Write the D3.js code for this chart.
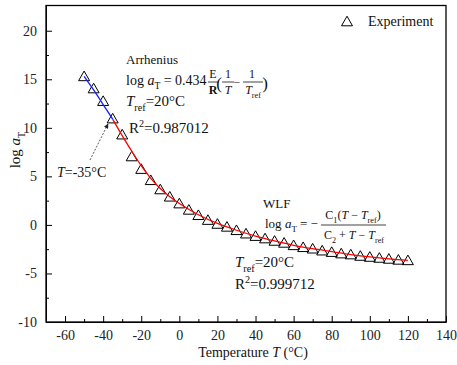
<!DOCTYPE html>
<html>
<head>
<meta charset="utf-8">
<script src="https://cdn.jsdelivr.net/npm/d3@7"></script>
<style>
  body { margin: 0; background: #fff; }
  svg text { font-family: "Liberation Serif", "Times New Roman", serif; fill: #111; white-space: pre; }
</style>
</head>
<body>
<svg width="457" height="365"></svg>
<script>
// experiment (shift factor points)
const temps = [-50, -45, -40, -35, -30, -25, -20, -15, -10, -5, 0, 5, 10, 15, 20, 25, 30, 35,
  40, 45, 50, 55, 60, 65, 70, 75, 80, 85, 90, 95, 100, 105, 110, 115, 120];
const logAT = [15.35, 14.1, 12.8, 11.0, 9.35, 7.1, 5.8, 4.65, 3.7, 2.95, 2.25, 1.6, 1.05, 0.55, 0.15, -0.15, -0.5, -0.85,
  -1.1, -1.35, -1.6, -1.8, -2.05, -2.25, -2.4, -2.6, -2.75, -2.9, -3.0, -3.15, -3.25, -3.35, -3.45, -3.55, -3.6];

// Arrhenius fit (blue)
const arrT = [-50, -45, -40, -35];
const arrLog = [15.3, 13.9, 12.4, 10.9];

// WLF fit (red)
const wlfT = [-35, -30, -25, -20, -15, -10, -5, 0, 10, 20, 30, 40, 50, 60, 70, 80, 90, 100, 110, 120];
const wlfLog = [10.9, 9.2, 7.6, 6.1, 4.8, 3.75, 2.9, 2.2, 1.05, 0.15, -0.55, -1.15, -1.65, -2.1, -2.45, -2.75, -3.05, -3.3, -3.5, -3.65];

const xTicks = [-60, -40, -20, 0, 20, 40, 60, 80, 100, 120, 140];
const xMinor = [-50, -30, -10, 10, 30, 50, 70, 90, 110, 130];
const yTicks = [-10, -5, 0, 5, 10, 15, 20];
const yMinor = [-7.5, -2.5, 2.5, 7.5, 12.5, 17.5];

var svg = d3.select("svg");

var x = d3.scaleLinear().domain([-70, 140]).range([46, 446]);
var y = d3.scaleLinear().domain([-10, 22.6]).range([322, 5.5]);

// ---------------------------------------------------------------- axes
function styleAxis(g) {
  g.attr("font-family", null).attr("font-size", 14);
  g.selectAll("text").style("fill", "#222");
  g.selectAll("line").attr("stroke-width", 1);
}

svg.append("g")
  .attr("transform", "translate(0,322)")
  .call(d3.axisBottom(x).tickValues(xMinor).tickSizeInner(-3).tickSizeOuter(0).tickFormat(""))
  .call(g => g.select(".domain").remove());

svg.append("g")
  .attr("transform", "translate(0,322)")
  .call(d3.axisBottom(x).tickValues(xTicks).tickSizeInner(-6).tickSizeOuter(0).tickPadding(8).tickFormat(d => String(d)))
  .call(styleAxis);

svg.append("g")
  .attr("transform", "translate(46,0)")
  .call(d3.axisLeft(y).tickValues(yMinor).tickSizeInner(-3).tickSizeOuter(0).tickFormat(""))
  .call(g => g.select(".domain").remove());

svg.append("g")
  .attr("transform", "translate(46,0)")
  .call(d3.axisLeft(y).tickValues(yTicks).tickSizeInner(-6).tickSizeOuter(0).tickPadding(9).tickFormat(d => String(d)))
  .call(styleAxis);

// frame
svg.append("rect")
  .attr("x", x(-70)).attr("y", y(22.6))
  .attr("width", x(140) - x(-70)).attr("height", y(-10) - y(22.6))
  .attr("fill", "none").attr("stroke", "#000").attr("stroke-width", 1.3);

// ---------------------------------------------------------------- points
const tri = "M0,-4.8L5.5,4.8L-5.5,4.8Z";

svg.append("g").selectAll("path")
  .data(temps)
  .enter()
  .append("path")
  .attr("d", tri)
  .attr("transform", (d, i) => "translate(" + x(d) + "," + y(logAT[i]) + ")")
  .attr("fill", "none")
  .attr("stroke", "#000")
  .attr("stroke-width", 1);

// ---------------------------------------------------------------- fit lines
var line = d3.line().x(d => x(d[0])).y(d => y(d[1])).curve(d3.curveCatmullRom);

svg.append("path")
  .datum(arrT.map((t, i) => [t, arrLog[i]]))
  .attr("d", line)
  .attr("fill", "none").attr("stroke", "#1020ff").attr("stroke-width", 1.3);

svg.append("path")
  .datum(wlfT.map((t, i) => [t, wlfLog[i]]))
  .attr("d", line)
  .attr("fill", "none").attr("stroke", "#ff0000").attr("stroke-width", 1.3);

// ---------------------------------------------------------------- text helpers
function rich(px, py, parts, size, anchor) {
  var t = svg.append("text")
    .attr("x", px).attr("y", py)
    .attr("font-size", size)
    .attr("text-anchor", anchor || "start");
  var shift = 0;
  parts.forEach(p => {
    var s = p[0], kind = p[1] || "";
    var sp = t.append("tspan").text(s);
    var target = 0;
    if (kind.indexOf("sub") >= 0) { target = size * 0.3; sp.attr("font-size", size * 0.68); }
    if (kind.indexOf("sup") >= 0) { target = -size * 0.4; sp.attr("font-size", size * 0.68); }
    if (kind.indexOf("i") === 0) sp.attr("font-style", "italic");
    if (kind === "b") sp.attr("font-weight", "bold");
    sp.attr("dy", target - shift);
    shift = target;
  });
  return t;
}

function bar(x1, x2, yy) {
  svg.append("line")
    .attr("x1", x1).attr("x2", x2).attr("y1", yy).attr("y2", yy)
    .attr("stroke", "#111").attr("stroke-width", 0.8);
}

// ---------------------------------------------------------------- legend
svg.append("path").attr("d", tri).attr("transform", "translate(347,21)")
  .attr("fill", "none").attr("stroke", "#000").attr("stroke-width", 1);
rich(368, 26, [["Experiment"]], 14);

// ---------------------------------------------------------------- Arrhenius
rich(126, 64, [["Arrhenius"]], 13);
rich(126, 85, [["log "], ["a", "i"], ["T", "sub"], [" = 0.434"]], 14);
rich(213, 78, [["E"]], 12, "middle");
rich(213, 94, [["R", "b"]], 12, "middle");
bar(208, 219, 82);
rich(219, 89, [["("]], 17, "middle");
rich(228, 78, [["1"]], 12, "middle");
rich(228, 94, [["T", "i"]], 12, "middle");
bar(222, 234, 82);
rich(237, 86, [["\u2212"]], 12, "middle");
rich(252, 78, [["1"]], 12, "middle");
rich(253, 94, [["T", "i"], ["ref", "sub"]], 12, "middle");
bar(243, 263, 82);
rich(265, 89, [[")"]], 17, "middle");
rich(126, 106, [["T", "i"], ["ref", "sub"], ["=20\u00b0C"]], 15);
rich(129, 133, [["R"], ["2", "sup"], ["=0.987012"]], 15);

// T = -35 annotation
svg.append("defs").append("marker")
  .attr("id", "arr").attr("viewBox", "0 0 10 10").attr("refX", 9).attr("refY", 5)
  .attr("markerWidth", 6).attr("markerHeight", 6).attr("orient", "auto")
  .append("path").attr("d", "M0,0L10,5L0,10Z").attr("fill", "#222");
svg.append("line")
  .attr("x1", 90).attr("y1", 160).attr("x2", 108).attr("y2", 124)
  .attr("stroke", "#333").attr("stroke-width", 0.8).attr("stroke-dasharray", "2,1.5")
  .attr("marker-end", "url(#arr)");
rich(57, 177, [["T", "i"], ["=-35\u00b0C"]], 14);

// ---------------------------------------------------------------- WLF
rich(263, 208, [["WLF"]], 13);
rich(265, 228, [["log "], ["a", "i"], ["T", "sub"], [" = \u2212"]], 13);
rich(353, 219, [["C"], ["1", "sub"], ["("], ["T", "i"], [" \u2212 "], ["T", "i"], ["ref", "sub"], [")"]], 12, "middle");
rich(354, 239, [["C"], ["2", "sub"], [" + "], ["T", "i"], [" \u2212 "], ["T", "i"], ["ref", "sub"]], 12, "middle");
bar(321, 386, 225);
rich(235, 267, [["T", "i"], ["ref", "sub"], ["=20\u00b0C"]], 15);
rich(235, 289, [["R"], ["2", "sup"], ["=0.999712"]], 15);

// ---------------------------------------------------------------- axis labels
rich(0, 0, [["log "], ["a", "i"], ["T", "sub"]], 15, "middle")
  .attr("transform", "translate(20,150) rotate(-90)");
rich(253, 357, [["Temperature "], ["T", "i"], [" (\u00b0C)"]], 14, "middle");
</script>
</body>
</html>
